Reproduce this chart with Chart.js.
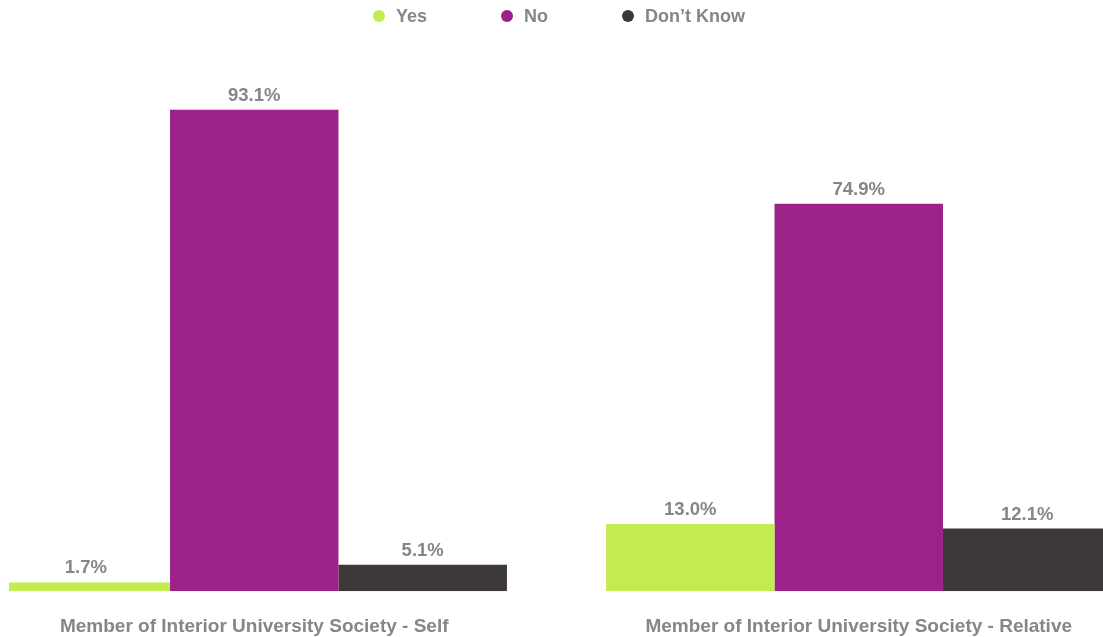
<!DOCTYPE html>
<html>
<head>
<meta charset="utf-8">
<script src="https://cdn.jsdelivr.net/npm/chart.js@4.4.1/dist/chart.umd.min.js"></script>
<style>
    html, body {
        margin: 0;
        padding: 0;
        background: #ffffff;
        overflow: hidden;
    }
    body {
        width: 1103px;
        height: 637px;
        position: relative;
        font-family: "Helvetica Neue", Helvetica, Arial, "Liberation Sans", sans-serif;
    }
    .legend {
        position: absolute;
        top: 6px;
        left: 373px;
        display: flex;
        align-items: center;
        font-size: 18px;
        font-weight: bold;
        color: #86868a;
    }
    .legend-item {
        display: flex;
        align-items: center;
        margin-right: 74px;
        line-height: 20px;
    }
    .legend-dot {
        width: 12px;
        height: 12px;
        border-radius: 50%;
        margin-right: 11px;
    }
    .chart-wrap {
        position: absolute;
        left: 9px;
        top: 0;
        width: 1094px;
        height: 637px;
        overflow: hidden;
    }
    .chart-wrap canvas {
        position: absolute;
        left: -57px;
        top: 0;
    }
</style>
</head>
<body>
<div class="chart-wrap">
    <canvas id="membershipChart" width="1209" height="662"></canvas>
</div>
<div class="legend" id="membershipLegend"></div>

<script>
// Survey answers, percent of respondents
const categories = [
    'Member of Interior University Society - Self',
    'Member of Interior University Society - Relative'
];
const seriesNames = ['Yes', 'No', 'Don\u2019t Know'];
const seriesColors = ['#c3ec52', '#9c2289', '#3d393a'];
const yesValues = [1.7, 13.0];
const noValues = [93.1, 74.9];
const dontKnowValues = [5.1, 12.1];

const labelColor = '#86868a';
const fontFamily = '"Helvetica Neue", Helvetica, Arial, "Liberation Sans", sans-serif';

document.addEventListener('DOMContentLoaded', function() {
    buildLegend();
    initializeChart();
});

function buildLegend() {
    const legend = document.getElementById('membershipLegend');
    seriesNames.forEach((name, i) => {
        const item = document.createElement('div');
        item.className = 'legend-item';
        item.innerHTML = `<span class="legend-dot" style="background:${seriesColors[i]}"></span><span>${name}</span>`;
        legend.appendChild(item);
    });
}

// Percent labels above each bar
const valueLabels = {
    id: 'valueLabels',
    afterDatasetsDraw(chart) {
        const ctx = chart.ctx;
        ctx.save();
        ctx.font = `bold 18.5px ${fontFamily}`;
        ctx.fillStyle = labelColor;
        ctx.textAlign = 'center';
        ctx.textBaseline = 'alphabetic';
        chart.data.datasets.forEach((dataset, i) => {
            const meta = chart.getDatasetMeta(i);
            meta.data.forEach((bar, j) => {
                ctx.fillText(dataset.data[j].toFixed(1) + '%', bar.x, bar.y - 9);
            });
        });
        ctx.restore();
    }
};

function initializeChart() {
    const ctx = document.getElementById('membershipChart');
    const seriesValues = [yesValues, noValues, dontKnowValues];

    new Chart(ctx, {
        type: 'bar',
        data: {
            labels: categories,
            datasets: seriesNames.map((name, i) => ({
                label: name,
                data: seriesValues[i],
                backgroundColor: seriesColors[i],
                borderWidth: 0,
                categoryPercentage: 0.836,
                barPercentage: 1
            }))
        },
        options: {
            responsive: false,
            animation: false,
            layout: { padding: { top: 74, left: 0, right: 0, bottom: 0 } },
            scales: {
                x: {
                    grid: { display: false, drawTicks: false },
                    border: { display: false },
                    ticks: {
                        color: labelColor,
                        padding: 24,
                        font: { family: fontFamily, size: 19, weight: 'bold' }
                    }
                },
                y: {
                    display: false,
                    min: 0,
                    max: 100
                }
            },
            plugins: {
                legend: { display: false },
                tooltip: { enabled: false }
            }
        },
        plugins: [valueLabels]
    });
}
</script>
</body>
</html>
